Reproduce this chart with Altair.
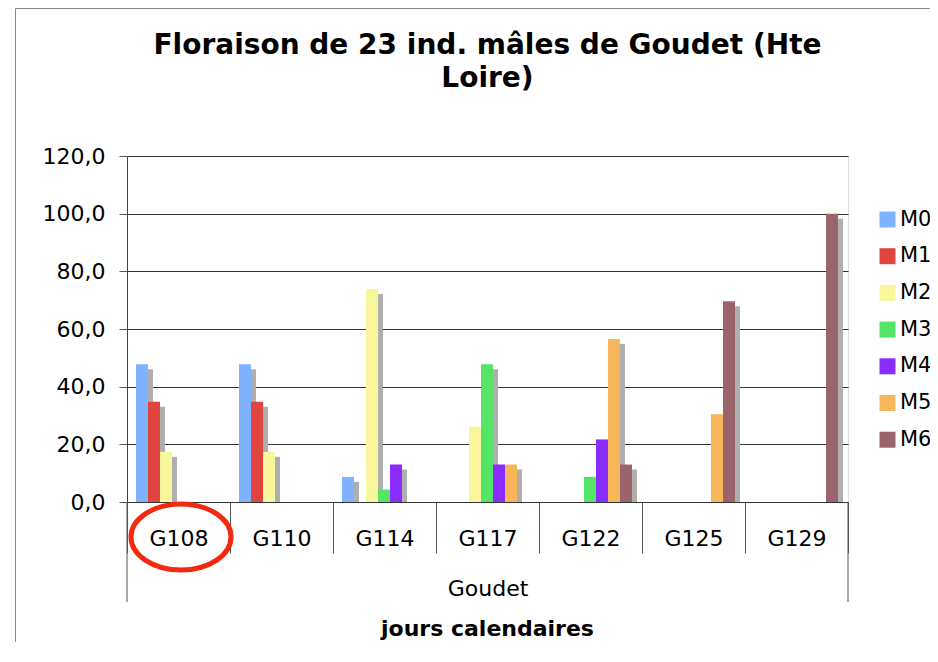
import altair as alt
import pandas as pd

GROUPS = ["G108", "G110", "G114", "G117", "G122", "G125", "G129"]
SERIES = ["M0", "M1", "M2", "M3", "M4", "M5", "M6"]
COLORS = ["#80B3FF", "#E0453F", "#F8F79C", "#54E466", "#8B2CFF", "#F8B65A", "#99656A"]

M0 = [47.8, 47.8, 8.7, 0, 0, 0, 0]
M1 = [34.8, 34.8, 0, 0, 0, 0, 0]
M2 = [17.4, 17.4, 73.9, 26.1, 0, 0, 0]
M3 = [0, 0, 4.3, 47.8, 8.7, 0, 0]
M4 = [0, 0, 13.0, 13.0, 21.7, 0, 0]
M5 = [0, 0, 0, 13.0, 56.5, 30.4, 0]
M6 = [0, 0, 0, 0, 13.0, 69.6, 100.0]

Y_TICKS = [0, 20, 40, 60, 80, 100, 120]
TITLE_LINES = ["Floraison de 23 ind. mâles de Goudet (Hte", "Loire)"]
X_TITLE = "Goudet"
X_TITLE2 = "jours calendaires"
HIGHLIGHT = ["G108"]

values = [M0, M1, M2, M3, M4, M5, M6]
rows = []
for s, vals in zip(SERIES, values):
    for g, v in zip(GROUPS, vals):
        rows.append({"Groupe": g, "Serie": s, "Valeur": v})
df = pd.DataFrame(rows)

FONT = "DejaVu Sans"
W, H = 721, 346
PAD_L, PAD_T, PAD_R, PAD_B = 119, 148, 82, 140

x_enc = alt.X(
    "Groupe:N",
    sort=GROUPS,
    scale=alt.Scale(domain=GROUPS, paddingInner=0, paddingOuter=0),
    axis=alt.Axis(
        title=X_TITLE,
        labelAngle=0,
        tickBand="extent",
        tickSize=51,
        tickColor="#555555",
        tickWidth=1,
        labelPadding=-25,
        labelFont=FONT,
        labelFontSize=22,
        labelColor="black",
        titleFont=FONT,
        titleFontSize=22,
        titleFontWeight="normal",
        titleColor="black",
        titleY=93,
        titleBaseline="alphabetic",
        domainColor="#333333",
        grid=False,
    ),
)
y_enc = alt.Y(
    "Valeur:Q",
    scale=alt.Scale(domain=[0, 120], nice=False),
    axis=alt.Axis(
        values=Y_TICKS,
        labelExpr="replace(format(datum.value, '.1f'), '.', ',')",
        labelFont=FONT,
        labelFontSize=22,
        labelColor="black",
        tickSize=8,
        tickColor="#555555",
        labelPadding=14,
        domainColor="#444444",
        gridColor="#333333",
        gridWidth=1,
        title=None,
    ),
)

base = alt.Chart(df).transform_filter("datum.Valeur > 0")

shadow = base.mark_bar(color="#AFAFAF", yOffset=5, clip=True).encode(
    x=x_enc,
    xOffset=alt.XOffset("Serie:N", scale=alt.Scale(domain=SERIES, range=[14, 98], paddingInner=0, paddingOuter=0)),
    y=y_enc,
)

bars = base.mark_bar().encode(
    x=x_enc,
    xOffset=alt.XOffset("Serie:N", scale=alt.Scale(domain=SERIES, range=[9, 93], paddingInner=0, paddingOuter=0)),
    y=y_enc,
    color=alt.Color(
        "Serie:N",
        scale=alt.Scale(domain=SERIES, range=COLORS),
        legend=alt.Legend(
            orient="none",
            legendX=750,
            legendY=53,
            title=None,
            symbolType="square",
            symbolSize=256,
            symbolStrokeWidth=0,
            symbolOpacity=1,
            labelFont=FONT,
            labelFontSize=21,
            labelColor="black",
            labelOffset=2,
            rowPadding=14.7,
            padding=0,
        ),
    ),
)

one = pd.DataFrame({"k": [0]})

outer_lines = alt.layer(
    alt.Chart(one).mark_rule(color="#555555", strokeWidth=1).encode(x=alt.value(0), y=alt.value(H), y2=alt.value(H + 100)),
    alt.Chart(one).mark_rule(color="#555555", strokeWidth=1).encode(x=alt.value(W), y=alt.value(H), y2=alt.value(H + 100)),
)

frame = alt.layer(
    alt.Chart(one).mark_rule(color="#8a8a8a", strokeWidth=1).encode(x=alt.value(-111.5), y=alt.value(-147.5), y2=alt.value(H + PAD_B)),
    alt.Chart(one).mark_rule(color="#8a8a8a", strokeWidth=1).encode(x=alt.value(-111.5), x2=alt.value(W + PAD_R), y=alt.value(-147.5)),
)

title = alt.Chart(one).mark_text(
    font=FONT, fontSize=28, fontWeight="bold", align="center", baseline="alphabetic", lineHeight=33, color="black"
).encode(text=alt.value(TITLE_LINES), x=alt.value(W / 2), y=alt.value(54 - 156))

xtitle2 = alt.Chart(one).mark_text(
    font=FONT, fontSize=22, fontWeight="bold", align="center", baseline="alphabetic", color="black"
).encode(text=alt.value(X_TITLE2), x=alt.value(W / 2), y=alt.value(636 - 156))

ellipse = alt.Chart(pd.DataFrame({"Groupe": HIGHLIGHT})).mark_point(
    shape="M -1 0 A 1 0.66 0 1 0 1 0 A 1 0.66 0 1 0 -1 0 Z",
    size=10000,
    filled=False,
    stroke="#F42A10",
    strokeWidth=5,
    opacity=1,
    xOffset=2.5,
).encode(x=alt.X("Groupe:N", sort=GROUPS), y=alt.value(537 - 156))

chart = (
    alt.layer(shadow, bars, outer_lines, frame, title, xtitle2, ellipse)
    .resolve_scale(xOffset="independent")
    .properties(
        width=W,
        height=H,
        autosize=alt.AutoSizeParams(type="none"),
        padding={"left": PAD_L, "top": PAD_T, "right": PAD_R, "bottom": PAD_B},
    )
    .configure_view(fill="#D4D4D4", stroke="#999999", strokeWidth=1)
    .configure(background="white")
)

chart.save("out.html", embed_options={"renderer": "svg", "actions": False})
